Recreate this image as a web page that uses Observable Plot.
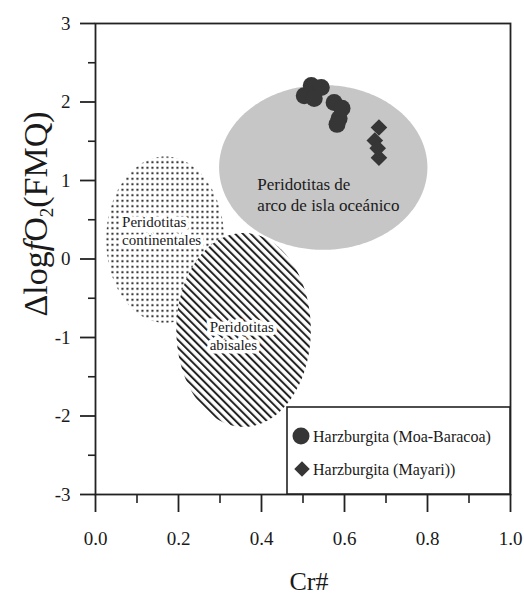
<!DOCTYPE html>
<html><head><meta charset="utf-8">
<script src="https://cdn.jsdelivr.net/npm/d3@7"></script>
<script src="https://cdn.jsdelivr.net/npm/@observablehq/plot@0.6"></script>
<style>
html,body{margin:0;padding:0;background:#fff;}
</style></head><body><div id="chart"></div>
<script>
// Axis ticks
const crTicks = [0, 0.2, 0.4, 0.6, 0.8, 1.0];
const crMinorTicks = [0.1, 0.3, 0.5, 0.7, 0.9];
const fo2Ticks = [-3, -2, -1, 0, 1, 2, 3];
const fo2MinorTicks = [-2.5, -1.5, -0.5, 0.5, 1.5, 2.5];

// Fields (ellipses) in data units
const regionNames = ["continentales", "abisales", "arco"];
const regionCx = [0.169, 0.358, 0.55];
const regionCy = [0.24, -0.91, 1.16];
const regionRx = [0.142, 0.162, 0.251];
const regionRy = [1.06, 1.235, 1.05];
const regionLabels = ["Peridotitas\ncontinentales", "Peridotitas\nabisales", "Peridotitas de\narco de isla oceánico"];
const labelCr = [0.064, 0.275, 0.39];
const labelFo2 = [0.572, -0.766, 1.064];

// Samples
const moaCr  = [0.503, 0.520, 0.544, 0.527, 0.575, 0.594, 0.587, 0.582];
const moaFo2 = [2.08, 2.21, 2.185, 2.045, 1.995, 1.92, 1.79, 1.715];
const mayariCr  = [0.683, 0.673, 0.680, 0.683];
const mayariFo2 = [1.675, 1.51, 1.41, 1.29];

const legendNames = ["Harzburgita (Moa-Baracoa)", "Harzburgita (Mayari))"];

function ellipse(i) {
  const pts = [];
  const n = 180;
  for (let k = 0; k <= n; k++) {
    const t = Math.PI * k / n;
    const s = Math.sin(t);
    pts.push({x: regionCx[i] + regionRx[i] * Math.cos(t), y1: regionCy[i] - regionRy[i] * s, y2: regionCy[i] + regionRy[i] * s});
  }
  return pts;
}
const moa = moaCr.map((x, i) => ({x, y: moaFo2[i]}));
const mayari = mayariCr.map((x, i) => ({x, y: mayariFo2[i]}));
const labels = regionLabels.map((t, i) => ({t, x: labelCr[i], y: labelFo2[i]}));

const ink = "#1a1a1a";
const ptColor = "#363636";

const plot = Plot.plot({
  width: 524, height: 599,
  marginLeft: 95, marginRight: 14, marginTop: 23, marginBottom: 105,
  x: {domain: [0, 1]},
  y: {domain: [-3, 3]},
  style: {fontFamily: "Liberation Serif", fontSize: "19px", color: ink, background: "white"},
  marks: [
    Plot.areaY(ellipse(0), {x: "x", y1: "y1", y2: "y2", fill: "url(#dots)"}),
    Plot.areaY(ellipse(2), {x: "x", y1: "y1", y2: "y2", fill: "#c6c6c6"}),
    Plot.areaY(ellipse(1), {x: "x", y1: "y1", y2: "y2", fill: "white"}),
    Plot.areaY(ellipse(1), {x: "x", y1: "y1", y2: "y2", fill: "url(#hatch)"}),
    Plot.text(labels.slice(0, 2), {x: "x", y: "y", text: "t", textAnchor: "start", lineAnchor: "top", fontSize: 15, lineHeight: 1.2, fill: ink, stroke: "white", strokeWidth: 7}),
    Plot.text(labels.slice(2), {x: "x", y: "y", text: "t", textAnchor: "start", lineAnchor: "top", fontSize: 17, lineHeight: 1.22, fill: ink}),
    Plot.dot(moa, {x: "x", y: "y", r: 8.5, symbol: "circle", fill: ptColor}),
    Plot.dot(mayari, {x: "x", y: "y", r: 7.5, symbol: "diamond2", fill: ptColor}),
    Plot.frame({stroke: "#222", strokeWidth: 1.8}),
    Plot.axisY({ticks: fo2Ticks, tickSize: 15, tickPadding: 10, tickFormat: d => String(d), label: null, strokeWidth: 1.8, stroke: "#222", fontSize: 19}),
    Plot.axisY({ticks: fo2MinorTicks, tickSize: 7, tickFormat: () => "", label: null, strokeWidth: 1.6, stroke: "#222"}),
    Plot.axisX({ticks: crTicks, tickSize: 18, tickPadding: 19, tickFormat: d3.format(".1f"), label: null, strokeWidth: 1.8, stroke: "#222", fontSize: 19}),
    Plot.axisX({ticks: crMinorTicks, tickSize: 9, tickFormat: () => "", label: null, strokeWidth: 1.6, stroke: "#222"})
  ]
});

const svg = d3.select(plot);
const defs = svg.insert("defs", ":first-child");
const hatch = defs.append("pattern").attr("id", "hatch").attr("patternUnits", "userSpaceOnUse")
  .attr("width", 5.5).attr("height", 5.5).attr("patternTransform", "rotate(-45)");
hatch.append("rect").attr("width", 2).attr("height", 5.5).attr("fill", "#222");
const dots = defs.append("pattern").attr("id", "dots").attr("patternUnits", "userSpaceOnUse")
  .attr("width", 5).attr("height", 5.5);
dots.append("rect").attr("x", 1.4).attr("y", 1.7).attr("width", 2.1).attr("height", 2.1).attr("fill", "#3a3a3a");

// Axis titles
const yl = svg.append("text").attr("transform", "translate(47,214) rotate(-90)")
  .attr("text-anchor", "middle").attr("font-family", "Liberation Serif").attr("font-size", 34).attr("fill", ink);
yl.append("tspan").text("Δlog");
yl.append("tspan").attr("font-style", "italic").text("f");
yl.append("tspan").text("O");
yl.append("tspan").attr("font-size", 19).attr("dy", 6).text("2");
yl.append("tspan").attr("dy", -6).text("(FMQ)");

svg.append("text").attr("x", 309).attr("y", 590).attr("text-anchor", "middle")
  .attr("font-family", "Liberation Serif").attr("font-size", 26).attr("fill", ink).text("Cr#");

// Legend
const lg = svg.append("g").attr("font-family", "Liberation Serif").attr("font-size", 16).attr("fill", ink).attr("text-anchor", "start");
lg.append("rect").attr("x", 287).attr("y", 407).attr("width", 223).attr("height", 87)
  .attr("fill", "white").attr("stroke", "#222").attr("stroke-width", 1.6);
const rowY = [436, 469];
lg.append("path").attr("transform", `translate(301,${rowY[0]})`).attr("d", d3.symbol(d3.symbolCircle, Math.PI * 8.5 * 8.5)()).attr("fill", ptColor);
lg.append("path").attr("transform", `translate(302,${rowY[1]})`).attr("d", d3.symbol(d3.symbolDiamond2, Math.PI * 7 * 7)()).attr("fill", ptColor);
legendNames.forEach((t, i) => {
  lg.append("text").attr("x", 313).attr("y", rowY[i] + 5.5).attr("text-anchor", "start").text(t);
});

document.getElementById("chart").appendChild(plot);
</script>
</body></html>
